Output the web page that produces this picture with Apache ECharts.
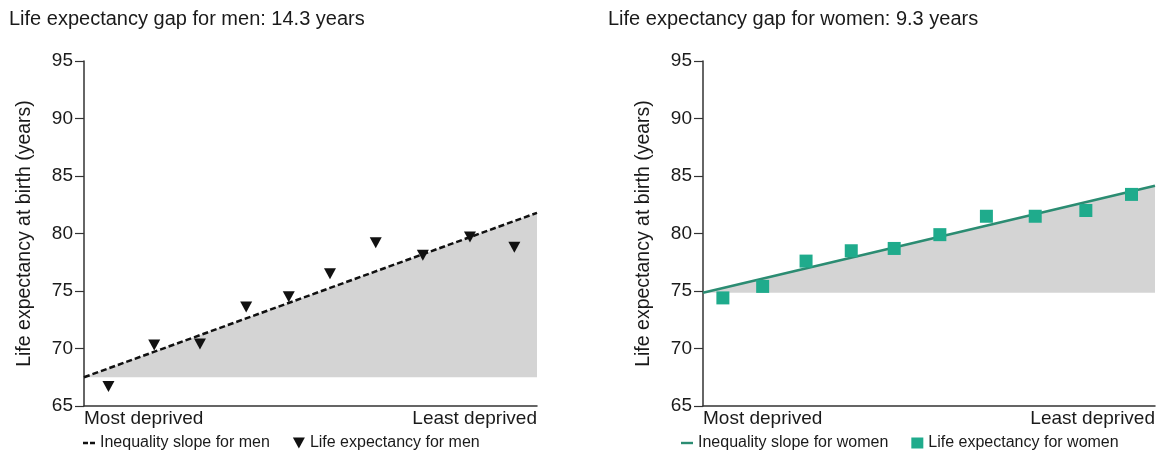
<!DOCTYPE html>
<html>
<head>
<meta charset="utf-8">
<script src="https://cdn.jsdelivr.net/npm/echarts@6/dist/echarts.min.js"></script>
<style>
  html, body { margin: 0; padding: 0; background: #fff; }
  #chart { width: 1168px; height: 452px; }
</style>
</head>
<body>
<div id="chart"></div>
<script>
const FONT = "'Liberation Sans', Arial, sans-serif"
const TEXT = "#1a1a1a"
const AXIS = "#333"
const SHADE = "#d4d4d4"
const TEAL_LINE = "#2b8c72"
const TEAL_MARK = "#1fab8c"

const titles = ["Life expectancy gap for men: 14.3 years", "Life expectancy gap for women: 9.3 years"]
const xEndLabels = ["Most deprived", "Least deprived"]
const yTitle = "Life expectancy at birth (years)"

// deprivation position (0 = most deprived, 10 = least deprived)
const slopeX = [0, 10]
const menX = [0.54, 1.55, 2.56, 3.58, 4.52, 5.43, 6.44, 7.48, 8.52, 9.5]
const menLE = [66.7, 70.3, 70.4, 73.6, 74.5, 76.5, 79.2, 78.1, 79.7, 78.8]
const menSlope = [67.5, 81.8]

const womenX = [0.44, 1.32, 2.28, 3.28, 4.23, 5.24, 6.27, 7.35, 8.47, 9.48]
const womenLE = [74.4, 75.4, 77.6, 78.5, 78.7, 79.9, 81.5, 81.5, 82.0, 83.4]
const womenSlope = [74.85, 84.15]

const legendNames = [
  ["Inequality slope for men", "Life expectancy for men"],
  ["Inequality slope for women", "Life expectancy for women"]
]

const ICON_DASH = "path://M0,0h5v2.4h-5z M7,0h5v2.4h-5z"
const ICON_LINE = "path://M0,0h12v2.4h-12z"
const ICON_TRIANGLE = "path://M0,0L10,0L5,9Z"

const chart = echarts.init(document.getElementById("chart"), null, { renderer: "canvas" })

function pairs(xs, ys) {
  return xs.map((x, i) => [x, ys[i]])
}

function xAxis(gridIndex) {
  return {
    type: "value",
    gridIndex,
    min: 0,
    max: 10,
    interval: 10,
    axisLine: { show: true, lineStyle: { color: AXIS, width: 1.5 } },
    axisTick: { show: false },
    splitLine: { show: false },
    axisLabel: {
      fontSize: 19,
      fontFamily: FONT,
      color: TEXT,
      margin: 3,
      alignMinLabel: "left",
      alignMaxLabel: "right",
      formatter: (v) => (v === 0 ? xEndLabels[0] : xEndLabels[1])
    }
  }
}

function yAxis(gridIndex) {
  return {
    type: "value",
    gridIndex,
    min: 65,
    max: 95,
    interval: 5,
    name: yTitle,
    nameLocation: "middle",
    nameGap: 49,
    nameTextStyle: { fontSize: 19.5, fontFamily: FONT, color: TEXT },
    axisLine: { show: true, lineStyle: { color: AXIS, width: 1.5 } },
    axisTick: { show: true, length: 9, lineStyle: { color: AXIS, width: 1.2 } },
    splitLine: { show: false },
    axisLabel: { fontSize: 19, fontFamily: FONT, color: TEXT, margin: 11 }
  }
}

function legend(left, names, lineIcon, lineColor, markIcon) {
  return {
    left,
    top: 435,
    padding: 0,
    itemWidth: 12,
    itemHeight: 11,
    itemGap: 23,
    textStyle: { fontSize: 16, fontFamily: FONT, color: TEXT },
    data: [
      { name: names[0], icon: lineIcon, itemStyle: { color: lineColor } },
      { name: names[1], icon: markIcon }
    ]
  }
}

chart.setOption({
  animation: false,
  title: titles.map((text, i) => ({
    text,
    left: i === 0 ? 9 : 608,
    top: 9,
    padding: 0,
    textStyle: { fontSize: 20, fontWeight: "normal", fontFamily: FONT, color: TEXT }
  })),
  grid: [
    { left: 84, top: 61, width: 453, height: 345 },
    { left: 703, top: 61, width: 452, height: 345 }
  ],
  xAxis: [xAxis(0), xAxis(1)],
  yAxis: [yAxis(0), yAxis(1)],
  legend: [
    legend(83, legendNames[0], ICON_DASH, "#111", ICON_TRIANGLE),
    legend(681, legendNames[1], ICON_LINE, TEAL_LINE, "rect")
  ],
  series: [
    {
      name: legendNames[0][0],
      type: "line",
      xAxisIndex: 0,
      yAxisIndex: 0,
      symbol: "none",
      data: pairs(slopeX, menSlope),
      itemStyle: { color: "#111" },
      lineStyle: { color: "#111", width: 2.5, type: [6, 3] },
      areaStyle: { color: SHADE, opacity: 1, origin: menSlope[0] },
      z: 2
    },
    {
      name: legendNames[0][1],
      type: "scatter",
      xAxisIndex: 0,
      yAxisIndex: 0,
      symbol: "triangle",
      symbolRotate: 180,
      symbolSize: [12, 11],
      itemStyle: { color: "#111", opacity: 1 },
      data: pairs(menX, menLE),
      z: 3
    },
    {
      name: legendNames[1][0],
      type: "line",
      xAxisIndex: 1,
      yAxisIndex: 1,
      symbol: "none",
      data: pairs(slopeX, womenSlope),
      itemStyle: { color: TEAL_LINE },
      lineStyle: { color: TEAL_LINE, width: 2.5 },
      areaStyle: { color: SHADE, opacity: 1, origin: womenSlope[0] },
      z: 2
    },
    {
      name: legendNames[1][1],
      type: "scatter",
      xAxisIndex: 1,
      yAxisIndex: 1,
      symbol: "rect",
      symbolSize: 13,
      itemStyle: { color: TEAL_MARK, opacity: 1 },
      data: pairs(womenX, womenLE),
      z: 3
    }
  ]
})
</script>
</body>
</html>
